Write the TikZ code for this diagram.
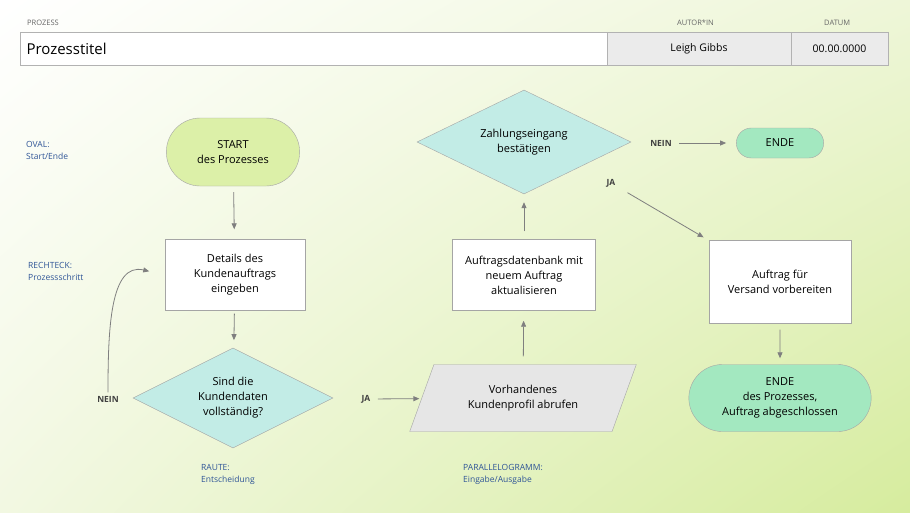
\documentclass[tikz,border=0pt]{standalone}
\usepackage{fontspec}
\setmainfont{Open Sans}
\usetikzlibrary{shapes.geometric,shapes.misc,arrows.meta,shadings}
\definecolor{ovalgreen}{HTML}{DCF0A8}
\definecolor{endgreen}{HTML}{A3E8C0}
\definecolor{rautecyan}{HTML}{C2ECE6}
\definecolor{paragray}{HTML}{E6E6E6}
\definecolor{notblue}{HTML}{2F5597}
\definecolor{linegray}{HTML}{7F7F7F}
\definecolor{bgtr}{HTML}{EEF6D8}
\definecolor{bgbl}{HTML}{F2F8E2}
\definecolor{bgbr}{HTML}{D6EC9E}
\tikzset{
    box/.style={draw=linegray!70, fill=white, minimum width=140pt, align=center, font=\fontsize{11}{15}\selectfont},
    oval/.style={box, rounded rectangle, fill=ovalgreen, minimum height=68pt},
    raute/.style={box, diamond, fill=rautecyan, aspect=2, inner sep=0pt},
    note/.style={anchor=north west, align=left, text=notblue, font=\fontsize{8.5}{12}\selectfont, inner sep=0pt},
    lbl/.style={font=\fontsize{8.5}{10}\selectfont\bfseries, text=black!75},
    head/.style={anchor=west, font=\fontsize{7.5}{8}\selectfont, text=black!60, inner sep=0pt},
    flow/.style={-{Triangle[length=6pt,width=5pt]}, draw=linegray, thick}
}
\begin{document}
\begin{tikzpicture}[x=1pt,y=-1pt]
    % Background
    \shade[upper left=white, upper right=bgtr, lower left=bgbl, lower right=bgbr]
        (0,0) rectangle (910,512);
    \useasboundingbox (0,0) rectangle (910,512);

    % Header
    \node[head] (hproc) at (27,23) {PROZESS};
    \node[head] (hauth) at (677,23) {AUTOR*IN};
    \node[head] (hdate) at (824,23) {DATUM};
    \draw[linegray!60, fill=white] (20,32) rectangle (607,65);
    \draw[linegray!60, fill=black!8] (607,32) rectangle (791,65);
    \draw[linegray!60, fill=black!8] (791,32) rectangle (888,65);
    \node[anchor=west, font=\fontsize{15}{17}\selectfont] (title) at (23,48.5) {Prozesstitel};
    \node[font=\fontsize{10.5}{12}\selectfont] (author) at (699,48.5) {Leigh Gibbs};
    \node[font=\fontsize{10.5}{12}\selectfont] (date) at (839.5,48.5) {00.00.0000};

    % Shapes
    \node[oval] (start) at (233,152) {START\\des Prozesses};
    \node[box, minimum height=71pt] (details) at (235,275) {Details des\\Kundenauftrags\\eingeben};
    \node[raute, minimum width=200pt, minimum height=100pt] (check) at (233,398) {Sind die\\Kundendaten\\vollständig?};
    \node[box, trapezium, trapezium left angle=64, trapezium right angle=116, fill=paragray,
          minimum width=227pt, minimum height=67pt, trapezium stretches=true] (profile) at (523,398) {Vorhandenes\\Kundenprofil abrufen};
    \node[box, minimum width=143pt, minimum height=71pt] (db) at (524,275) {Auftragsdatenbank mit\\neuem Auftrag\\aktualisieren};
    \node[raute, minimum width=214pt, minimum height=104pt] (pay) at (524,142) {Zahlungseingang\\bestätigen};
    \node[box, rounded rectangle, fill=endgreen, minimum width=94pt, minimum height=30pt] (end1) at (780,143) {ENDE};
    \node[box, minimum width=142pt, minimum height=83pt] (ship) at (780,282) {Auftrag für\\Versand vorbereiten};
    \node[oval, fill=endgreen, minimum width=189pt, minimum height=67pt] (end2) at (780,398) {ENDE\\des Prozesses,\\Auftrag abgeschlossen};

    % Labels
    \node[lbl] (no1) at (108,399) {NEIN};
    \node[lbl] (yes1) at (366,399) {JA};
    \node[lbl] (no2) at (661,143) {NEIN};
    \node[lbl] (yes2) at (611,183) {JA};

    % Connectors
    \draw[flow, shorten <=6pt, shorten >=10pt] (start) -- (details);
    \draw[flow, shorten <=3pt, shorten >=8pt] (details) -- (check);
    \draw[flow, shorten >=16pt] (no1.north) .. controls (108,330) and (110,262) .. (details.west);
    \draw[flow, shorten <=4pt, shorten >=2pt] (yes1) -- (profile);
    \draw[flow, shorten <=8pt, shorten >=10pt] (profile) -- (db);
    \draw[flow, shorten <=8pt, shorten >=8pt] (db) -- (pay);
    \draw[flow, shorten <=4pt, shorten >=10pt] (no2) -- (end1);
    \draw[flow, shorten <=10pt, shorten >=6pt] (yes2) -- (ship);
    \draw[flow, shorten <=6pt, shorten >=6pt] (ship) -- (end2);

    % Notes
    \node[note] (n1) at (26,141) {OVAL:\\Start/Ende};
    \node[note] (n2) at (28,262) {RECHTECK:\\Prozessschritt};
    \node[note] (n3) at (201,464) {RAUTE:\\Entscheidung};
    \node[note] (n4) at (463,464) {PARALLELOGRAMM:\\Eingabe/Ausgabe};
\end{tikzpicture}
\end{document}
